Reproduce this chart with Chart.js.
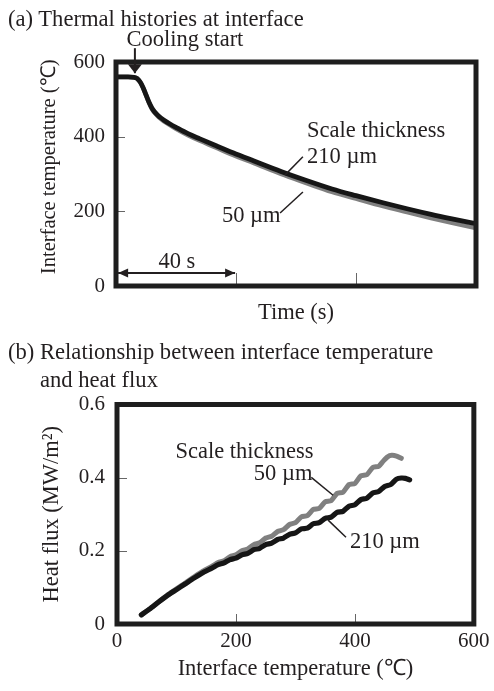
<!DOCTYPE html>
<html><head><meta charset="utf-8">
<script src="https://cdn.jsdelivr.net/npm/chart.js@4.4.0/dist/chart.umd.min.js"></script>
<style>
html,body{margin:0;padding:0;background:#fff;}
#wrap{position:relative;width:494px;height:691px;overflow:hidden;font-family:'Liberation Serif','Times New Roman',serif;color:#231f20;}
.ttl{position:absolute;font-size:22.6px;line-height:28px;white-space:nowrap;}
#ca{position:absolute;left:0;top:0;width:494px;height:330px;}
#cb{position:absolute;left:0;top:330px;width:494px;height:361px;}
</style></head><body>
<div id="wrap">
<canvas id="ca" width="494" height="330"></canvas>
<canvas id="cb" width="494" height="361"></canvas>
<div class="ttl" style="left:8px;top:5px">(a) Thermal histories at interface</div>
<div class="ttl" style="left:8px;top:338px">(b) Relationship between interface temperature</div>
<div class="ttl" style="left:40px;top:366px">and heat flux</div>
</div>
<script>
// ---------- (a) Thermal histories ----------
const timeA    = [0,4,6,7,8,9,10,11,12,13,14,15,16,18,20,24,28,33,39,46,55,63,72,80,89,97,105,112,120];
const temp210A = [560,560,559,556,547,532,512,492,476,465,457,450,444,434,425,408,394,377,357,335,307,284,260,242,223,207,192,180,167];
const temp50A  = [560,560,559,556,547,532,512,491,474,463,454,447,441,431,421,404,389,372,351,329,300,277,252,234,214,198,182,169,155];
const xTicksA  = [0,40,80,120];
const yTicksA  = [0,200,400,600];
const yLabelsA = ['0','200','400','600'];

// ---------- (b) Interface temperature vs heat flux ----------
const temp50B = [41,55,70,85,100,115,130,145,160,170,180,190,200,210,220,230,240,250,260,270,280,290,300,310,320,330,340,350,360,370,380,390,400,410,420,430,440,448,455,462,470,478];
const flux50B = [0.025,0.041,0.060,0.079,0.096,0.112,0.129,0.145,0.158,0.168,0.173,0.184,0.189,0.200,0.205,0.217,0.222,0.235,0.240,0.253,0.258,0.272,0.277,0.293,0.296,0.313,0.316,0.334,0.337,0.357,0.360,0.381,0.384,0.405,0.408,0.428,0.431,0.446,0.457,0.461,0.459,0.453];
const temp210B = [41,55,70,85,100,115,130,145,160,170,180,190,200,210,220,230,240,250,260,270,280,290,300,310,320,330,340,350,360,370,380,390,400,410,420,430,440,450,460,470,478,485,492];
const flux210B = [0.025,0.041,0.060,0.078,0.094,0.110,0.126,0.141,0.153,0.162,0.167,0.176,0.180,0.189,0.193,0.203,0.207,0.217,0.221,0.231,0.235,0.245,0.249,0.260,0.262,0.274,0.277,0.289,0.292,0.305,0.308,0.322,0.326,0.340,0.344,0.358,0.362,0.376,0.381,0.396,0.399,0.398,0.394];
const xTicksB  = [0,200,400,600];
const xLabelsB = ['0','200','400','600'];
const yTicksB  = [0,0.2,0.4,0.6];
const yLabelsB = ['0','0.2','0.4','0.6'];

const INK = '#231f20';
const GREY = '#808080';
const FONT = "'Liberation Serif','Times New Roman',serif";
Chart.defaults.font.family = FONT;
Chart.defaults.color = INK;

function pts(xs, ys){ return xs.map((v,i)=>({x:v,y:ys[i]})); }

const decor = {
  id:'decor',
  afterDatasetsDraw(chart, args, o){
    const {ctx, chartArea:a, scales:{x,y}} = chart;
    const P = (vx,vy)=>[x.getPixelForValue(vx), y.getPixelForValue(vy)];
    ctx.save();
    ctx.strokeStyle = '#666'; ctx.lineWidth = 1;
    x.ticks.forEach(t=>{
      if (t.value<=x.min || t.value>=x.max) return;
      const px = Math.round(x.getPixelForValue(t.value))+0.5;
      ctx.beginPath(); ctx.moveTo(px,a.bottom); ctx.lineTo(px,a.bottom-o.xTick); ctx.stroke();
    });
    y.ticks.forEach(t=>{
      if (t.value<=y.min || t.value>=y.max) return;
      const py = Math.round(y.getPixelForValue(t.value))+0.5;
      ctx.beginPath(); ctx.moveTo(a.left,py); ctx.lineTo(a.left+o.yTick,py); ctx.stroke();
    });
    // frame
    ctx.strokeStyle = '#1e1e1e'; ctx.lineWidth = 5; ctx.lineJoin='miter';
    ctx.strokeRect(a.left,a.top,a.right-a.left,a.bottom-a.top);
    // leader lines
    ctx.strokeStyle = INK; ctx.lineWidth = 1.5; ctx.lineCap='butt';
    (o.lines||[]).forEach(l=>{
      const p1=P(l[0],l[1]), p2=P(l[2],l[3]);
      ctx.beginPath(); ctx.moveTo(p1[0],p1[1]); ctx.lineTo(p2[0],p2[1]); ctx.stroke();
    });
    // arrows
    (o.arrows||[]).forEach(ar=>{
      const p1=P(ar.from[0],ar.from[1]), p2=P(ar.to[0],ar.to[1]);
      const ang=Math.atan2(p2[1]-p1[1],p2[0]-p1[0]);
      const L=ar.len||10, W=ar.w||5;
      ctx.lineWidth=2; ctx.fillStyle=INK; ctx.strokeStyle=INK;
      ctx.beginPath(); ctx.moveTo(p1[0],p1[1]); ctx.lineTo(p2[0],p2[1]); ctx.stroke();
      const head=(p,an)=>{
        ctx.beginPath(); ctx.moveTo(p[0],p[1]);
        ctx.lineTo(p[0]-L*Math.cos(an)+W*Math.sin(an), p[1]-L*Math.sin(an)-W*Math.cos(an));
        ctx.lineTo(p[0]-L*Math.cos(an)-W*Math.sin(an), p[1]-L*Math.sin(an)+W*Math.cos(an));
        ctx.closePath(); ctx.fill();
      };
      head(p2,ang);
      if (ar.both) head(p1,ang+Math.PI);
    });
    // texts
    ctx.fillStyle = INK; ctx.textBaseline='alphabetic';
    (o.texts||[]).forEach(t=>{
      ctx.font = (t.size||22.5)+'px '+FONT;
      ctx.textAlign = t.align||'left';
      const p=P(t.x,t.y);
      ctx.fillText(t.t,p[0],p[1]);
    });
    ctx.restore();
  }
};

function setTicks(arr){ return s=>{ s.ticks = arr.map(v=>({value:v})); }; }

new Chart(document.getElementById('ca'), {
  type:'line',
  data:{ datasets:[
    {data:pts(timeA,temp210A), borderColor:'#161616', borderWidth:4.8, pointRadius:0, cubicInterpolationMode:'monotone', fill:false},
    {data:pts(timeA,temp50A), borderColor:GREY, borderWidth:4.5, pointRadius:0, cubicInterpolationMode:'monotone', fill:false}
  ]},
  options:{
    responsive:false, animation:false, devicePixelRatio:1,
    layout:{padding:{left:30,right:18,top:62,bottom:0}},
    plugins:{legend:{display:false}, tooltip:{enabled:false},
      decor:{ xTick:13, yTick:9,
        texts:[
          {t:'Cooling start', x:3.5, y:643},
          {t:'Scale thickness', x:63.7, y:399},
          {t:'210 µm', x:63.7, y:329.5},
          {t:'50 µm', x:35.3, y:171},
          {t:'40 s', x:20.3, y:48, align:'center'}
        ],
        lines:[[62.3,346,56.3,297],[54.7,195.5,62.3,251.8]],
        arrows:[
          {from:[6.3,637], to:[6.3,570], len:9, w:7},
          {from:[0.7,34.8], to:[39.7,34.8], both:true, len:10, w:4.5}
        ]
      }},
    scales:{
      x:{type:'linear', min:0, max:120, afterBuildTicks:setTicks(xTicksA),
         ticks:{display:false}, grid:{display:false, drawTicks:false}, border:{display:false},
         title:{display:true, text:'Time (s)', font:{size:22.5}, color:INK, padding:{top:0,bottom:3.3}},
         afterFit:s=>{s.height=44;}},
      y:{type:'linear', min:0, max:600, afterBuildTicks:setTicks(yTicksA),
         ticks:{font:{size:21}, color:INK, padding:11, callback:(v,i)=>yLabelsA[i]},
         grid:{display:false, drawTicks:false}, border:{display:false},
         title:{display:true, text:'\u2002\u2009Interface temperature (℃)', font:{size:20.5}, color:INK, padding:{top:7,bottom:0}},
         afterFit:s=>{s.width=86;}}
    }
  },
  plugins:[decor]
});

new Chart(document.getElementById('cb'), {
  type:'line',
  data:{ datasets:[
    {data:pts(temp210B,flux210B), borderColor:'#161616', borderWidth:5.2, pointRadius:0, tension:0.2, borderCapStyle:'round', borderJoinStyle:'round', fill:false},
    {data:pts(temp50B,flux50B), borderColor:GREY, borderWidth:5, pointRadius:0, tension:0.2, borderCapStyle:'round', borderJoinStyle:'round', fill:false}
  ]},
  options:{
    responsive:false, animation:false, devicePixelRatio:1,
    layout:{padding:{left:30,right:17,top:74.5,bottom:0}},
    plugins:{legend:{display:false}, tooltip:{enabled:false},
      decor:{ xTick:10, yTick:10,
        texts:[
          {t:'Scale thickness', x:98.3, y:0.453},
          {t:'50 µm', x:230, y:0.393},
          {t:'210 µm', x:391.7, y:0.207}
        ],
        lines:[[326.7,0.401,363.3,0.352],[385,0.237,355,0.284]]
      }},
    scales:{
      x:{type:'linear', min:0, max:600, afterBuildTicks:setTicks(xTicksB),
         ticks:{font:{size:21}, color:INK, padding:4.4, maxRotation:0, autoSkip:false, callback:(v,i)=>xLabelsB[i]},
         grid:{display:false, drawTicks:false}, border:{display:false},
         title:{display:true, text:'Interface temperature (℃)', font:{size:22.5}, color:INK, padding:{top:0,bottom:8.8}},
         afterFit:s=>{s.height=67;}},
      y:{type:'linear', min:0, max:0.6, afterBuildTicks:setTicks(yTicksB),
         ticks:{font:{size:21}, color:INK, padding:12, callback:(v,i)=>yLabelsB[i]},
         grid:{display:false, drawTicks:false}, border:{display:false},
         title:{display:true, text:'Heat flux (MW/m²)', font:{size:22.5}, color:INK, padding:{top:8.8,bottom:0}},
         afterFit:s=>{s.width=87;}}
    }
  },
  plugins:[decor]
});
</script>
</body></html>
